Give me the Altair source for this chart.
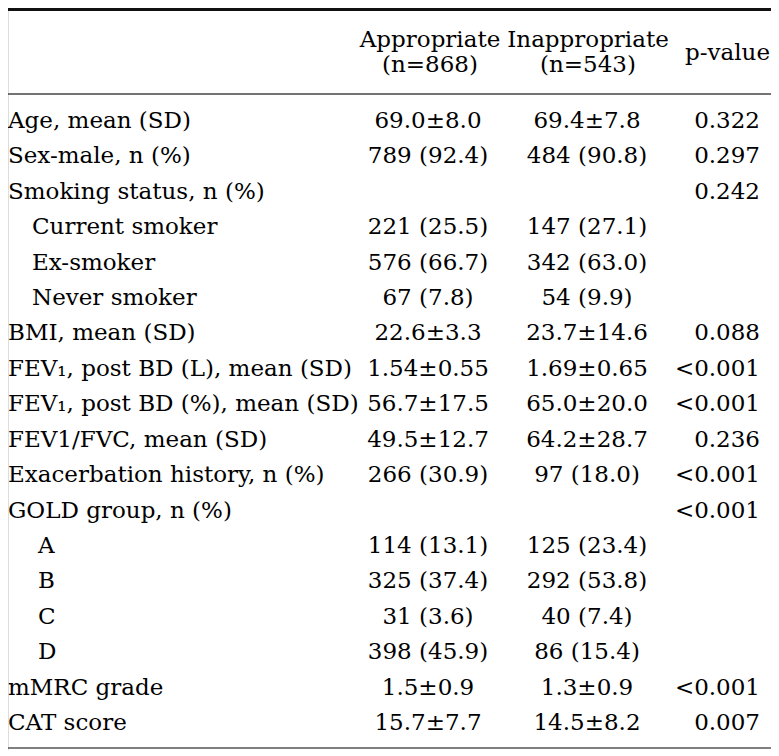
import altair as alt
import pandas as pd

# ---- table content ----
labels = [
    "Age, mean (SD)", "Sex-male, n (%)", "Smoking status, n (%)",
    "Current smoker", "Ex-smoker", "Never smoker",
    "BMI, mean (SD)", "FEV₁, post BD (L), mean (SD)", "FEV₁, post BD (%), mean (SD)",
    "FEV1/FVC, mean (SD)", "Exacerbation history, n (%)", "GOLD group, n (%)",
    "A", "B", "C", "D", "mMRC grade", "CAT score",
]
levels = [0, 0, 0, 1, 1, 1, 0, 0, 0, 0, 0, 0, 2, 2, 2, 2, 0, 0]
appropriate = [
    "69.0±8.0", "789 (92.4)", "", "221 (25.5)", "576 (66.7)", "67 (7.8)",
    "22.6±3.3", "1.54±0.55", "56.7±17.5", "49.5±12.7", "266 (30.9)", "",
    "114 (13.1)", "325 (37.4)", "31 (3.6)", "398 (45.9)", "1.5±0.9", "15.7±7.7",
]
inappropriate = [
    "69.4±7.8", "484 (90.8)", "", "147 (27.1)", "342 (63.0)", "54 (9.9)",
    "23.7±14.6", "1.69±0.65", "65.0±20.0", "64.2±28.7", "97 (18.0)", "",
    "125 (23.4)", "292 (53.8)", "40 (7.4)", "86 (15.4)", "1.3±0.9", "14.5±8.2",
]
pvalues = [
    "0.322", "0.297", "0.242", "", "", "",
    "0.088", "<0.001", "<0.001", "0.236", "<0.001", "<0.001",
    "", "", "", "", "<0.001", "0.007",
]
header_text = ["Appropriate", "(n=868)", "Inappropriate", "(n=543)", "p-value"]
header_col = ["app", "app", "inapp", "inapp", "p"]
header_row = [-2.287, -1.581, -2.287, -1.581, -1.92]

df = pd.DataFrame({
    "row": list(range(len(labels))),
    "label": labels,
    "level": levels,
    "app": appropriate,
    "inapp": inappropriate,
    "p": pvalues,
})
hdr = pd.DataFrame({"row": header_row, "text": header_text, "col": header_col})

W, H = 763, 742
FONT = "DejaVu Serif"
FS = 23
COLOR = "#000000"
yscale = alt.Scale(domain=[0, 17], range=[120, 722])
Y = alt.Y("row:Q", scale=yscale, axis=None)


def body_text(field, x, align, filt=None):
    c = alt.Chart(df).mark_text(font=FONT, fontSize=FS, align=align,
                                baseline="alphabetic", color=COLOR)
    if filt is not None:
        c = c.transform_filter(filt)
    return c.encode(x=alt.value(x), y=Y, text=alt.Text(f"{field}:N"))


def head_text(col, x, align):
    return (alt.Chart(hdr)
            .mark_text(font=FONT, fontSize=FS, align=align,
                       baseline="alphabetic", color=COLOR)
            .transform_filter(alt.datum.col == col)
            .encode(x=alt.value(x), y=Y, text="text:N"))


def rule(rowpos, width, color):
    return (alt.Chart(df.head(1))
            .mark_rule(strokeWidth=width, color=color)
            .encode(x=alt.value(0), x2=alt.value(W),
                    y=alt.Y(datum=rowpos, type="quantitative", scale=yscale, axis=None)))


layers = [
    rule(-3.346, 3, "#111111"),
    rule(-0.96, 1.5, "#444444"),
    rule(17.508, 1.5, "#555555"),
    head_text("app", 422, "center"),
    head_text("inapp", 580, "center"),
    head_text("p", 762, "right"),
    body_text("label", 0, "left", alt.datum.level == 0),
    body_text("label", 24, "left", alt.datum.level == 1),
    body_text("label", 30, "left", alt.datum.level == 2),
    body_text("app", 420, "center"),
    body_text("inapp", 579, "center"),
    body_text("p", 752, "right"),
]

chart = (alt.layer(*layers)
         .properties(width=W, height=H, padding=0,
                     autosize=alt.AutoSizeParams(type="none"))
         .configure_view(stroke=None)
         .configure(background="white"))

chart.save("out.html", embed_options={"renderer": "svg", "actions": False})
